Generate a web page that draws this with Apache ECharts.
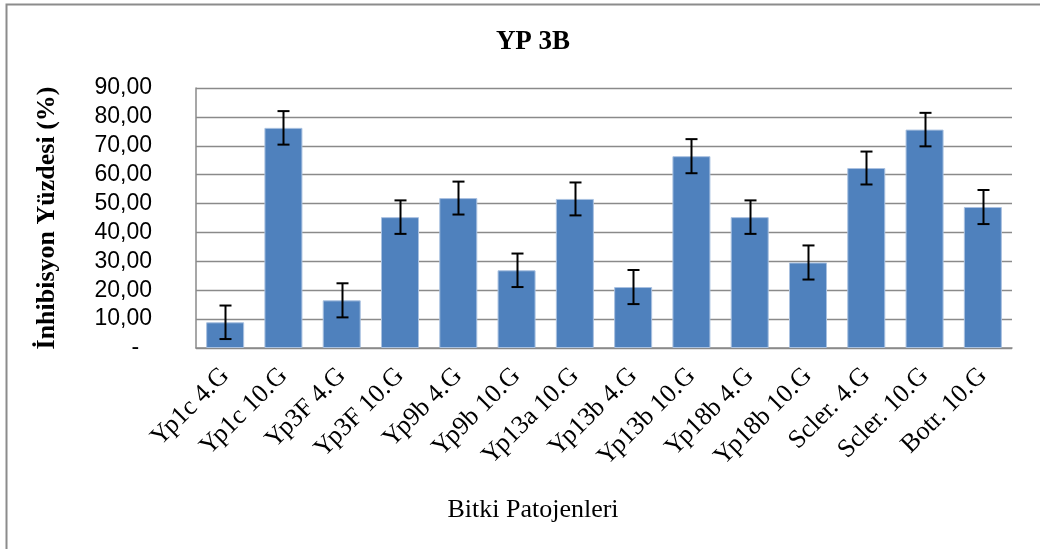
<!DOCTYPE html>
<html><head><meta charset="utf-8">
<script src="https://cdn.jsdelivr.net/npm/echarts@6/dist/echarts.min.js"></script>
<style>html,body{margin:0;padding:0;background:#fff}#c{width:1040px;height:549px}</style>
</head><body><div id="c"></div>
<script>
var categories = ['Yp1c 4.G','Yp1c 10.G','Yp3F 4.G','Yp3F 10.G','Yp9b 4.G','Yp9b 10.G','Yp13a 10.G','Yp13b 4.G','Yp13b 10.G','Yp18b 4.G','Yp18b 10.G','Scler. 4.G','Scler. 10.G','Botr. 10.G'];
var values = [8.9, 76.2, 16.5, 45.3, 51.9, 26.9, 51.6, 21.1, 66.4, 45.3, 29.6, 62.3, 75.6, 48.8];
var errors = [5.8, 5.8, 5.9, 5.8, 5.7, 5.8, 5.7, 5.9, 5.9, 5.8, 5.9, 5.7, 5.8, 5.9];
var yTicks = [0, 10, 20, 30, 40, 50, 60, 70, 80, 90];

var chart = echarts.init(document.getElementById('c'), null, {renderer:'canvas'});
var serif = '"Liberation Serif", "Times New Roman", serif';
chart.setOption({
  animation: false,
  backgroundColor: '#fff',
  graphic: [{
    type: 'rect', shape: {x: 6.5, y: 4.5, width: 1100, height: 600},
    style: {fill: 'none', stroke: '#8c8c8c', lineWidth: 2}, silent: true
  }],
  title: [{
    text: 'YP 3B', left: 528, top: 24, textAlign: 'center',
    textStyle: {fontFamily: serif, fontWeight: 'bold', fontSize: 27, color: '#000'}
  }, {
    text: 'Bitki Patojenleri', left: 528, top: 492, textAlign: 'center',
    textStyle: {fontFamily: serif, fontWeight: 'normal', fontSize: 26, color: '#000'}
  }],
  grid: {left: 196, right: 28, top: 88, bottom: 201, containLabel: false},
  xAxis: {
    type: 'category', data: categories,
    axisLine: {lineStyle: {color: '#8a8a8a', width: 1.5}},
    axisTick: {show: false},
    axisLabel: {rotate: 45, interval: 0, margin: 24, fontFamily: serif, fontSize: 26, color: '#000'}
  },
  yAxis: {
    type: 'value', min: 0, max: 90, interval: 10,
    name: 'İnhibisyon Yüzdesi (%)', nameLocation: 'middle', nameGap: 136, nameRotate: 90,
    nameTextStyle: {fontFamily: serif, fontWeight: 'bold', fontSize: 26, color: '#000'},
    axisLine: {show: true, lineStyle: {color: '#8a8a8a', width: 1.5}},
    axisTick: {show: false},
    splitLine: {lineStyle: {color: '#8a8a8a', width: 1.4}},
    axisLabel: {
      margin: 44, fontFamily: '"Liberation Sans", Arial, sans-serif', fontSize: 23, color: '#000',
      formatter: function (v) { return yTicks.indexOf(v) < 0 ? '' : (v === 0 ? '-  ' : v.toFixed(2).replace('.', ',')); }
    }
  },
  series: [{
    type: 'bar', data: values, barWidth: 38,
    itemStyle: {color: '#4F81BD', borderColor: '#a9c1e0', borderWidth: 1}
  }, {
    type: 'custom',
    data: values.map(function (v, i) { return [i, v - errors[i], v + errors[i]]; }),
    renderItem: function (params, api) {
      var lo = api.coord([api.value(0), api.value(1)]);
      var hi = api.coord([api.value(0), api.value(2)]);
      var x = Math.round(lo[0]) + 0.5, hw = 6;
      var st = {stroke: '#000', lineWidth: 2};
      return {type: 'group', children: [
        {type: 'line', shape: {x1: x, y1: lo[1], x2: x, y2: hi[1]}, style: st},
        {type: 'line', shape: {x1: x - hw, y1: lo[1], x2: x + hw, y2: lo[1]}, style: st},
        {type: 'line', shape: {x1: x - hw, y1: hi[1], x2: x + hw, y2: hi[1]}, style: st}
      ]};
    },
    z: 5
  }]
});
</script></body></html>
